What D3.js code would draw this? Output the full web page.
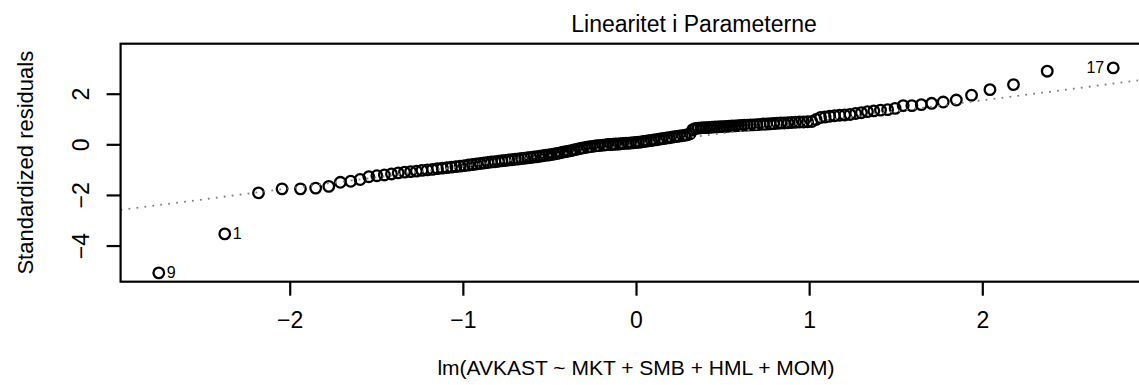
<!DOCTYPE html>
<html>
<head>
<meta charset="utf-8">
<script src="https://cdn.jsdelivr.net/npm/d3@7"></script>
<style>
  body { margin: 0; background: #fff; }
  text { font-family: "Liberation Sans", Arial, sans-serif; }
</style>
</head>
<body>
<div id="my_dataviz"></div>
<script>
// set dimensions
var width = 1139
var height = 385

// texts
var title = "Linearitet i Parameterne"
var y_label = "Standardized residuals"
var sub_caption = "lm(AVKAST ~ MKT + SMB + HML + MOM)"

// sorted standardized residuals
var residuals = [
  -5.08, -3.54, -1.92, -1.76, -1.76, -1.73, -1.66, -1.50, -1.46, -1.39,
  -1.28, -1.24, -1.21, -1.17, -1.13, -1.10, -1.08, -1.06, -1.03, -1.01,
  -0.99, -0.96, -0.94, -0.92, -0.90, -0.88, -0.86, -0.84, -0.82, -0.80,
  -0.78, -0.76, -0.74, -0.72, -0.70, -0.69, -0.67, -0.65, -0.64, -0.62,
  -0.61, -0.59, -0.58, -0.56, -0.55, -0.53, -0.52, -0.50, -0.49, -0.47,
  -0.45, -0.43, -0.42, -0.40, -0.38, -0.36, -0.34, -0.31, -0.29, -0.27,
  -0.25, -0.22, -0.20, -0.17, -0.15, -0.13, -0.11, -0.09, -0.08, -0.06,
  -0.05, -0.04, -0.03, -0.02, -0.01, -0.01, 0.00, 0.01, 0.01, 0.02,
  0.03, 0.04, 0.04, 0.05, 0.06, 0.07, 0.08, 0.09, 0.11, 0.12,
  0.14, 0.15, 0.17, 0.18, 0.20, 0.22, 0.23, 0.25, 0.26, 0.28,
  0.30, 0.31, 0.33, 0.34, 0.36, 0.38, 0.42, 0.58, 0.63, 0.64,
  0.65, 0.66, 0.66, 0.67, 0.68, 0.69, 0.69, 0.70, 0.70, 0.71,
  0.72, 0.73, 0.73, 0.74, 0.75, 0.76, 0.76, 0.77, 0.77, 0.78,
  0.79, 0.80, 0.80, 0.81, 0.82, 0.83, 0.84, 0.84, 0.85, 0.86,
  0.87, 0.88, 0.88, 0.89, 0.90, 0.98, 1.06, 1.08, 1.11, 1.13,
  1.15, 1.16, 1.18, 1.22, 1.25, 1.29, 1.32, 1.35, 1.37, 1.42,
  1.53, 1.53, 1.57, 1.62, 1.67, 1.75, 1.94, 2.16, 2.36, 2.89,
  3.02
]

// labelled observations: id and rank in the sorted residuals
var label_ids = ["9", "1", "17"]
var label_ranks = [1, 2, 171]

// reference line
var line_intercept = 0.0
var line_slope = 0.87

// tick values
var x_ticks = [-2, -1, 0, 1, 2]
var y_ticks = [-4, -2, 0, 2]

// inverse normal cdf (Acklam)
function qnorm(p) {
  var a = [-39.69683028665376, 220.9460984245205, -275.9285104469687, 138.3577518672690, -30.66479806614716, 2.506628277459239]
  var b = [-54.47609879822406, 161.5858368580409, -155.6989798598866, 66.80131188771972, -13.28068155288572]
  var c = [-0.007784894002430293, -0.3223964580411365, -2.400758277161838, -2.549732539343734, 4.374664141464968, 2.938163982698783]
  var d = [0.007784695709041462, 0.3224671290700398, 2.445134137142996, 3.754408661907416]
  var plow = 0.02425, q, r
  if (p < plow) {
    q = Math.sqrt(-2 * Math.log(p))
    return (((((c[0]*q+c[1])*q+c[2])*q+c[3])*q+c[4])*q+c[5]) / ((((d[0]*q+d[1])*q+d[2])*q+d[3])*q+1)
  } else if (p <= 1 - plow) {
    q = p - 0.5
    r = q * q
    return (((((a[0]*r+a[1])*r+a[2])*r+a[3])*r+a[4])*r+a[5])*q / (((((b[0]*r+b[1])*r+b[2])*r+b[3])*r+b[4])*r+1)
  } else {
    q = Math.sqrt(-2 * Math.log(1 - p))
    return -(((((c[0]*q+c[1])*q+c[2])*q+c[3])*q+c[4])*q+c[5]) / ((((d[0]*q+d[1])*q+d[2])*q+d[3])*q+1)
  }
}

// theoretical quantiles for each sorted residual
var n = residuals.length
var points = residuals.map(function(r, i) {
  return { x: qnorm((i + 1 - 0.5) / n), y: r, rank: i + 1 }
})

// axis limits like R: 4% extension, extra room on top for labels
var x_ext = d3.extent(points, function(d) { return d.x })
var y_ext = d3.extent(residuals)
y_ext[1] = y_ext[1] + (y_ext[1] - y_ext[0]) * 0.075
function extend(e) {
  var pad = (e[1] - e[0]) * 0.04
  return [e[0] - pad, e[1] + pad]
}

var plot_left = 120.6
var plot_right = 1151.4
var plot_top = 43.7
var plot_bottom = 281.7

var x = d3.scaleLinear().domain(extend(x_ext)).range([plot_left, plot_right])
var y = d3.scaleLinear().domain(extend(y_ext)).range([plot_bottom, plot_top])

var svg = d3.select("#my_dataviz")
  .append("svg")
  .attr("width", width)
  .attr("height", height)

svg.append("rect")
  .attr("width", width)
  .attr("height", height)
  .attr("fill", "#fff")

// clip for the plot region
svg.append("clipPath")
  .attr("id", "clip")
  .append("rect")
  .attr("x", plot_left)
  .attr("y", plot_top)
  .attr("width", plot_right - plot_left)
  .attr("height", plot_bottom - plot_top)

// points
svg.append("g")
  .selectAll("circle")
  .data(points)
  .enter()
  .append("circle")
  .attr("cx", function(d) { return x(d.x) })
  .attr("cy", function(d) { return y(d.y) })
  .attr("r", 5.3)
  .attr("fill", "none")
  .attr("stroke", "#000")
  .attr("stroke-width", 2.3)

// dotted qq line
var x_dom = x.domain()
svg.append("line")
  .attr("clip-path", "url(#clip)")
  .attr("x1", x(x_dom[0]))
  .attr("y1", y(line_intercept + line_slope * x_dom[0]))
  .attr("x2", x(x_dom[1]))
  .attr("y2", y(line_intercept + line_slope * x_dom[1]))
  .attr("stroke", "#7f7f7f")
  .attr("stroke-width", 1.8)
  .attr("stroke-dasharray", "1.8,6.2")

// id labels
label_ranks.forEach(function(rank, k) {
  var p = points[rank - 1]
  var left_side = p.x < 0
  svg.append("text")
    .attr("x", x(p.x) + (left_side ? 8 : -9))
    .attr("y", y(p.y) + 5)
    .attr("text-anchor", left_side ? "start" : "end")
    .attr("font-size", "16px")
    .text(label_ids[k])
})

// box
svg.append("rect")
  .attr("x", plot_left)
  .attr("y", plot_top)
  .attr("width", plot_right - plot_left)
  .attr("height", plot_bottom - plot_top)
  .attr("fill", "none")
  .attr("stroke", "#000")
  .attr("stroke-width", 2.2)

// x axis
var x_axis = svg.append("g")
  .attr("transform", "translate(0," + plot_bottom + ")")
  .call(d3.axisBottom(x).tickValues(x_ticks).tickSize(14).tickPadding(16).tickFormat(d3.format("d")))
x_axis.select(".domain").remove()
x_axis.selectAll("line").attr("stroke", "#000").attr("stroke-width", 2.2)
x_axis.selectAll("text")
  .attr("font-family", "Liberation Sans, Arial, sans-serif")
  .attr("font-size", "23px")
  .attr("fill", "#000")

// y axis
var y_axis = svg.append("g")
  .attr("transform", "translate(" + plot_left + ",0)")
  .call(d3.axisLeft(y).tickValues(y_ticks).tickSize(14).tickFormat(d3.format("d")))
y_axis.select(".domain").remove()
y_axis.selectAll("line").attr("stroke", "#000").attr("stroke-width", 2.2)
y_axis.selectAll("text")
  .attr("font-family", "Liberation Sans, Arial, sans-serif")
  .attr("font-size", "23px")
  .attr("fill", "#000")
  .attr("x", null)
  .attr("dy", null)
  .attr("text-anchor", "middle")
  .attr("transform", "translate(-32,0) rotate(-90)")

// title
svg.append("text")
  .attr("x", 694)
  .attr("y", 32)
  .attr("text-anchor", "middle")
  .attr("font-size", "23px")
  .text(title)

// y label
svg.append("text")
  .attr("transform", "translate(33," + ((plot_top + plot_bottom) / 2) + ") rotate(-90)")
  .attr("text-anchor", "middle")
  .attr("font-size", "22px")
  .text(y_label)

// sub caption
svg.append("text")
  .attr("x", 636)
  .attr("y", 375)
  .attr("text-anchor", "middle")
  .attr("font-size", "21px")
  .text(sub_caption)
</script>
</body>
</html>
